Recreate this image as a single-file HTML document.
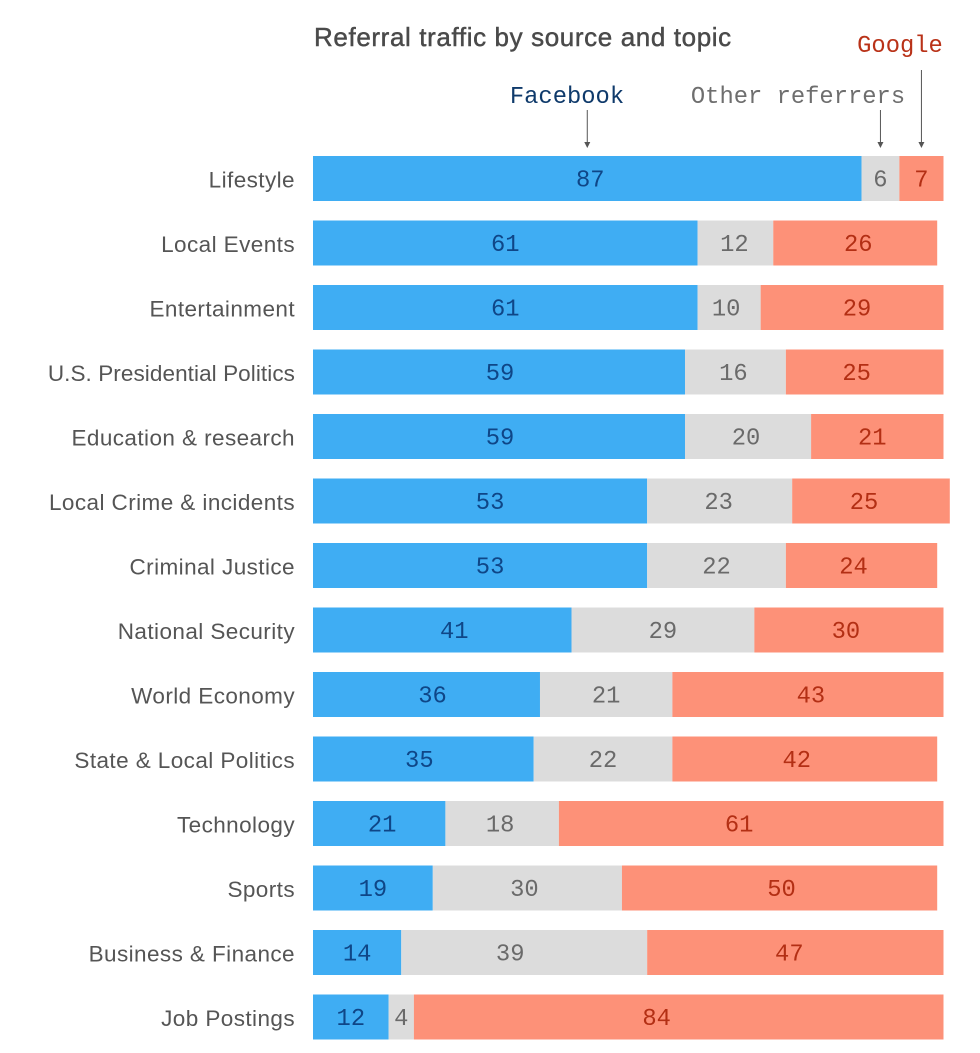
<!DOCTYPE html>
<html lang="en">
<head>
<meta charset="utf-8">
<title>Referral traffic by source and topic</title>
<style>
html,body{margin:0;padding:0;background:#fff;width:980px;height:1053px;overflow:hidden}
svg{display:block}
.cat{font-family:"Liberation Sans",sans-serif;font-size:22.5px;letter-spacing:.42px;fill:#555;text-anchor:end}
.cat.tight{letter-spacing:.08px}
.val{font-family:"Liberation Mono",monospace;font-size:23.8px;text-anchor:middle}
.ann{font-family:"Liberation Mono",monospace;font-size:23.8px;text-anchor:middle}
.title{font-family:"Liberation Sans",sans-serif;font-size:26px;letter-spacing:.62px;fill:#4a4a4a;stroke:#4a4a4a;stroke-width:.45px}
</style>
</head>
<body>
<svg id="chart" width="980" height="1053" viewBox="0 0 980 1053" xmlns="http://www.w3.org/2000/svg">
<text class="title" x="314" y="46">Referral traffic by source and topic</text>
</svg>
<script>
const categories = ["Lifestyle","Local Events","Entertainment","U.S. Presidential Politics","Education & research","Local Crime & incidents","Criminal Justice","National Security","World Economy","State & Local Politics","Technology","Sports","Business & Finance","Job Postings"];
const facebook = [87,61,61,59,59,53,53,41,36,35,21,19,14,12];
const other = [6,12,10,16,20,23,22,29,21,22,18,30,39,4];
const google = [7,26,29,25,21,25,24,30,43,42,61,50,47,84];

const NS = "http://www.w3.org/2000/svg";
const svg = document.getElementById("chart");
const X0 = 313, PX_PER_UNIT = 6.305, Y0 = 156, STEP = 64.5, BAR_H = 45;
const xScale = v => X0 + v * PX_PER_UNIT;
const yScale = i => Y0 + i * STEP;

/* Layout only: the reference hand-places its value labels off-centre.
   Each entry is [facebook, other, google] shift from the segment centre, in px. */
const LABEL_NUDGE_PX = [
  [3,0,0],[0,-1,3],[0,-3,5],[1,-2,-8],[1,-2,-5],[10,-1,-7],[10,0,-8],
  [12,0,-3],[6,0,3],[-4,0,-8],[3,-2,-12],[0,-3,2],[0,-14,-6],[0,0,-22]
];

function make(tag, attrs, parent) {
  const el = document.createElementNS(NS, tag);
  for (const k in attrs) el.setAttribute(k, attrs[k]);
  (parent || svg).appendChild(el);
  return el;
}

const segStyles = [
  {key:"facebook", fill:"#3fadf3", text:"#0f4687"},
  {key:"other", fill:"#dcdcdc", text:"#6a6a6a"},
  {key:"google", fill:"#fd9178", text:"#b32f14"}
];

categories.forEach((cat, i) => {
  const y = yScale(i);
  const row = make("g", {});
  
  

  const label = make("text", {class: cat.startsWith("U.S.") ? "cat tight" : "cat", x:295, y:y + BAR_H/2 + 9}, row);
  
  
  label.textContent = cat;

  const vals = [facebook[i], other[i], google[i]];
  let cum = 0;
  vals.forEach((v, s) => {
    const x1 = xScale(cum), x2 = xScale(cum + v);
    const r = make("rect", {x:x1, y:y, width:x2 - x1, height:BAR_H, fill:segStyles[s].fill}, row);
    
    
    const t = make("text", {class:"val", x:(x1 + x2)/2 + LABEL_NUDGE_PX[i][s], y:y + BAR_H/2 + 8, fill:segStyles[s].text}, row);
    
    
    t.textContent = v;
    cum += v;
  });
});

/* Series annotations point at the middle of each segment in the first row */
const fx = xScale(facebook[0] / 2);
const ox = xScale(facebook[0] + other[0] / 2);
const gx = xScale(facebook[0] + other[0] + google[0] / 2);

function arrow(x, y1, y2) {
  const g = make("g", {});
  
  
  make("line", {x1:x, x2:x, y1:y1, y2:y2 - 3, stroke:"#555", "stroke-width":1}, g);
  make("path", {d:`M${x-3} ${y2-6}L${x+3} ${y2-6}L${x} ${y2}Z`, fill:"#555"}, g);
}
arrow(fx, 110, 148);
arrow(ox, 110, 148);
arrow(gx, 70, 148);

const annF = make("text", {class:"ann", x:567, y:103, fill:"#0f3a6b"});


annF.textContent = "Facebook";

const annO = make("text", {class:"ann", x:798, y:103, fill:"#6e6e6e"});


annO.textContent = "Other referrers";

const annG = make("text", {class:"ann", x:900, y:52, fill:"#b93218"});


annG.textContent = "Google";
</script>
</body>
</html>
